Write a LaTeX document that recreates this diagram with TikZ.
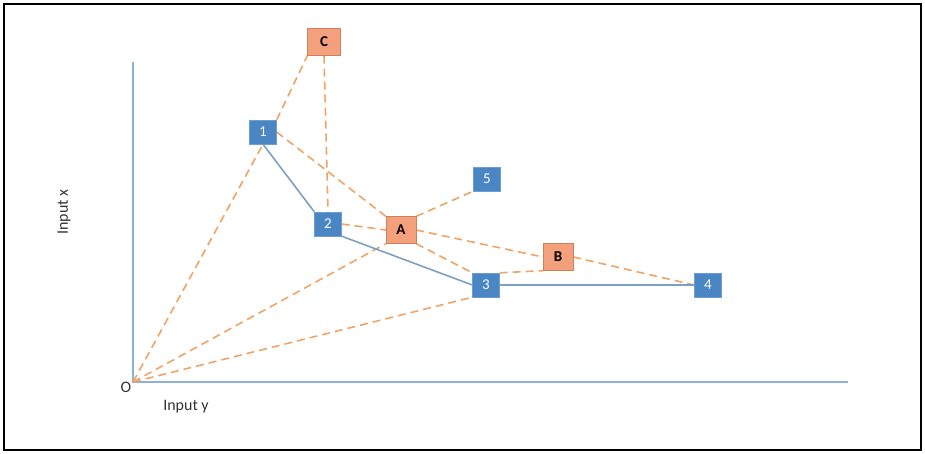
\documentclass[tikz,border=0pt]{standalone}
\usepackage{fontspec}
\setmainfont{Carlito}
\begin{document}
\begin{tikzpicture}[x=1pt,y=-1pt,
  bluebox/.style={draw=bluefill!80!white,fill=bluefill,text=white,minimum width=27pt,minimum height=24pt,inner sep=0pt,font=\fontsize{15}{15}\selectfont},
  orangebox/.style={draw=orangeedge,fill=orangefill,text=black,minimum width=30pt,minimum height=27pt,inner sep=0pt,font=\fontsize{15}{15}\selectfont\bfseries},
  solidlink/.style={draw=bluelink,line width=1.6pt},
  dashlink/.style={draw=dashorange,line width=1.6pt,dash pattern=on 8pt off 5pt},
  axis/.style={draw=axisblue,line width=1.6pt},
  lbl/.style={font=\fontsize{16}{16}\selectfont,text=black!80}]
\definecolor{bluefill}{HTML}{4A86C4}
\definecolor{orangefill}{HTML}{F4A07C}
\definecolor{orangeedge}{HTML}{C8825E}
\definecolor{bluelink}{HTML}{7E9FC4}
\definecolor{dashorange}{HTML}{EFA466}
\definecolor{axisblue}{HTML}{8DB0D8}
\useasboundingbox (0,0) rectangle (925,453);
\draw[black,line width=1.5pt] (4,4) rectangle (921,450);
% axes
\coordinate (O) at (133,382);
\coordinate (ytop) at (133,62);
\coordinate (xend) at (848,382);
\draw[axis] (ytop) -- (O) -- (xend);
\node[lbl] (olbl) at (126,387) {O};
\node[lbl] (ylbl) at (186,407) {Input y};
\node[lbl,rotate=90] (xlbl) at (64,212) {Input x};
% nodes
\node[bluebox] (n1) at (263,132) {1};
\node[bluebox] (n2) at (328,224) {2};
\node[bluebox] (n3) at (486,285) {3};
\node[bluebox] (n4) at (708,285) {4};
\node[bluebox] (n5) at (487,179) {5};
\node[orangebox,minimum width=33pt] (C) at (324,42) {C};
\node[orangebox] (A) at (401,230) {A};
\node[orangebox] (B) at (558,257) {B};
% dashed links
\path[dashlink] (O) -- (n1.south);
\path[dashlink] (n1.north east) -- (C.south west);
\path[dashlink] (C.south) -- (n2.north);
\path[dashlink] (n1.east) -- (A.north west);
\path[dashlink] (A.south east) -- (n3.north west);
\path[dashlink] (n2.east) -- (A.west);
\path[dashlink] (A.east) -- (B.west);
\path[dashlink] (B.east) -- (n4.west);
\path[dashlink] (O) -- (A.south west);
\path[dashlink] (A.north east) -- (n5.south west);
\path[dashlink] (O) -- (n3.south west);
\path[dashlink] (n3.north east) -- (B.south west);
% solid links
\path[solidlink] (n1.south) -- (n2.north west);
\path[solidlink] (n2.south east) -- (n3.west);
\path[solidlink] (n3.east) -- (n4.west);
% redraw nodes on top
\node[bluebox] at (n1) {1};
\node[bluebox] at (n2) {2};
\node[bluebox] at (n3) {3};
\node[bluebox] at (n4) {4};
\node[bluebox] at (n5) {5};
\node[orangebox,minimum width=33pt] at (C) {C};
\node[orangebox] at (A) {A};
\node[orangebox] at (B) {B};
\end{tikzpicture}
\end{document}
